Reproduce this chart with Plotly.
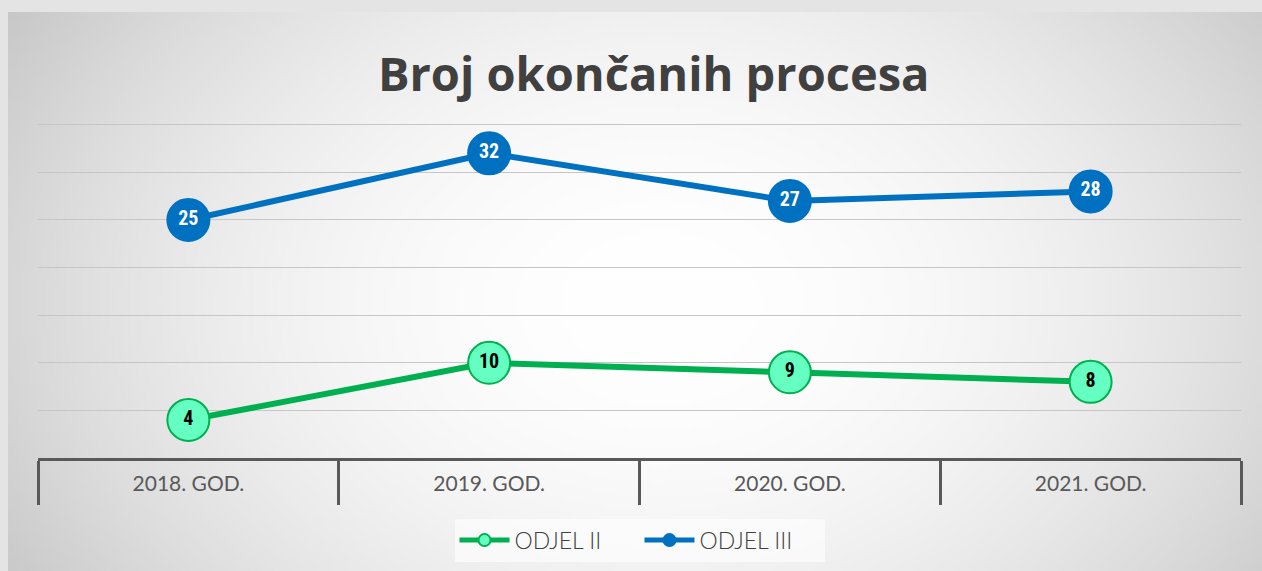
import base64, struct, zlib
import numpy as np
import plotly.graph_objects as go

categories = ["2018. GOD.", "2019. GOD.", "2020. GOD.", "2021. GOD."]
odjel_ii = [4, 10, 9, 8]
odjel_iii = [25, 32, 27, 28]
series_names = ["ODJEL II", "ODJEL III"]
grid_vals = [5, 10, 15, 20, 25, 30, 35]
title_text = "Broj okončanih procesa"

BLUE = "#0070C0"
GREEN = "#00B050"
MINT = "#66FFC2"

# radial gradient background image (decoration)
def make_png(arr):
    h, w = arr.shape
    raw = b"".join(b"\x00" + arr[i].astype(np.uint8).tobytes() for i in range(h))
    def chunk(tag, data):
        c = struct.pack(">I", len(data)) + tag + data
        return c + struct.pack(">I", zlib.crc32(tag + data) & 0xffffffff)
    png = b"\x89PNG\r\n\x1a\n"
    png += chunk(b"IHDR", struct.pack(">IIBBBBB", w, h, 8, 0, 0, 0, 0))
    png += chunk(b"IDAT", zlib.compress(raw, 9))
    png += chunk(b"IEND", b"")
    return "data:image/png;base64," + base64.b64encode(png).decode()

W, H = 314, 140
xx, yy = np.meshgrid(np.linspace(0, 1, W), np.linspace(0, 1, H))
d = np.sqrt(((xx - 0.52) / 0.58) ** 2 + ((yy - 0.52) / 0.95) ** 2)
val = 255 - 50 * np.clip(d, 0, 1.3) ** 2.0
bg_src = make_png(np.clip(val, 0, 255))

fig = go.Figure()
fig.add_trace(go.Scatter(
    x=categories, y=odjel_ii, mode="lines+markers+text", name=series_names[0],
    text=[str(v) for v in odjel_ii], textposition="middle center",
    textfont=dict(family="Liberation Sans Narrow, Roboto Condensed, Roboto", size=20,
                  color="#000000", weight="bold"),
    line=dict(color=GREEN, width=6),
    marker=dict(size=42, color=MINT, line=dict(color=GREEN, width=2)),
    showlegend=False, hoverinfo="skip",
))
fig.add_trace(go.Scatter(
    x=categories, y=odjel_iii, mode="lines+markers+text", name=series_names[1],
    text=[str(v) for v in odjel_iii], textposition="middle center",
    textfont=dict(family="Liberation Sans Narrow, Roboto Condensed, Roboto", size=20,
                  color="#FFFFFF", weight="bold"),
    line=dict(color=BLUE, width=6),
    marker=dict(size=42, color=BLUE, line=dict(color=BLUE, width=2)),
    showlegend=False, hoverinfo="skip",
))
# legend entries
fig.add_trace(go.Scatter(x=[None], y=[None], mode="lines+markers", name=series_names[0],
                         line=dict(color=GREEN, width=5),
                         marker=dict(size=12, color=MINT, line=dict(color=GREEN, width=2))))
fig.add_trace(go.Scatter(x=[None], y=[None], mode="lines+markers", name=series_names[1],
                         line=dict(color=BLUE, width=5),
                         marker=dict(size=12, color=BLUE, line=dict(color=BLUE, width=2))))

PH = 338  # plot height in px
fig.update_layout(
    width=1262, height=571,
    margin=dict(l=38, r=21, t=120, b=113, autoexpand=False),
    paper_bgcolor="#E4E4E4",
    plot_bgcolor="rgba(0,0,0,0)",
    title=dict(text=title_text, x=0.518, xanchor="center", y=0.870, yanchor="middle",
               font=dict(family="Open Sans, Lato", size=47, color="#404040", weight="bold")),
    images=[dict(source=bg_src, xref="paper", yref="paper", x=-30/1203, y=(PH + 108)/PH,
                 sizex=1254/1203, sizey=559/PH, sizing="stretch", layer="below",
                 xanchor="left", yanchor="top")],
    xaxis=dict(
        type="category", range=[-0.5, 3.5], tickson="boundaries",
        ticks="outside", ticklen=44, tickwidth=3, tickcolor="#595959",
        showline=True, linecolor="#595959", linewidth=3,
        showgrid=False, ticklabelstandoff=5,
        tickfont=dict(family="Lato, Open Sans", size=21, color="#595959", weight=400),
    ),
    yaxis=dict(
        range=[0, 35.5], tickvals=grid_vals, showticklabels=False,
        showgrid=True, gridcolor="#C6C6C6", gridwidth=1, zeroline=False, showline=False,
    ),
    legend=dict(orientation="h", x=0.5, xanchor="center", yref="container",
                y=0.054, yanchor="middle",
                bgcolor="rgba(255,255,255,0.6)", itemwidth=50,
                entrywidth=120, entrywidthmode="pixels",
                font=dict(family="Lato, Open Sans", size=23, color="#404040", weight=300)),
)

fig.write_html("out.html", config={"displayModeBar": False},
               post_script="document.body.style.margin='0';")
